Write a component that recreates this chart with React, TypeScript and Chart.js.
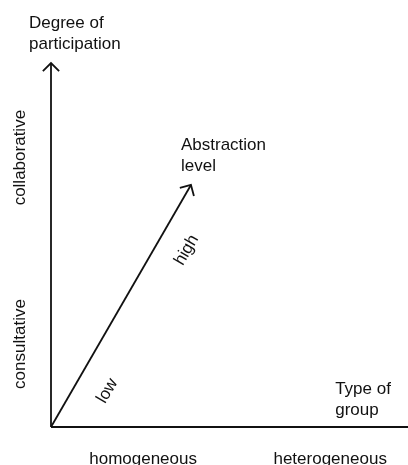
import React, { useEffect, useRef } from "react";
import { Chart, registerables } from "chart.js";

Chart.register(...registerables);

// ---- data (conceptual diagram, in axis units 0..10) ----
const groupTypes = ["homogeneous", "heterogeneous"];
const groupTypeX = [2.58, 7.82];

const participationLevels = ["consultative", "collaborative"];
const participationY = [2.28, 7.4];

const abstractionLevels = ["low", "high"];
const abstractionX = [1.58, 3.8];
const abstractionY = [0.99, 4.86];

const xAxisLine = [
  { x: 0, y: 0 },
  { x: 10, y: 0 },
];
const yAxisLine = [
  { x: 0, y: 0 },
  { x: 0, y: 10 },
];
const abstractionLine = [
  { x: 0, y: 0 },
  { x: 3.92, y: 6.65 },
];

const axisTitles = [
  { lines: ["Degree of", "participation"], x: -0.616, y: 10.96 },
  { lines: ["Abstraction", "level"], x: 3.64, y: 7.61 },
  { lines: ["Type of", "group"], x: 7.96, y: 0.907 },
];

const FONT = '17px "Liberation Sans", Arial, sans-serif';
const INK = "#111111";

const diagramPlugin = {
  id: "diagramPlugin",
  afterDatasetsDraw(chart: any) {
    const ctx = chart.ctx;
    const xs = chart.scales.x;
    const ys = chart.scales.y;
    const px = (v: number) => xs.getPixelForValue(v);
    const py = (v: number) => ys.getPixelForValue(v);

    ctx.save();
    // arrowheads on datasets flagged with arrow
    chart.data.datasets.forEach((ds: any, i: number) => {
      if (!ds.arrow) return;
      const meta = chart.getDatasetMeta(i);
      const pts = meta.data;
      const a = pts[pts.length - 2];
      const b = pts[pts.length - 1];
      const ang = Math.atan2(b.y - a.y, b.x - a.x);
      const len = 11.5;
      ctx.strokeStyle = INK;
      ctx.lineWidth = 1.8;
      ctx.beginPath();
      ctx.moveTo(b.x - len * Math.cos(ang - Math.PI / 4), b.y - len * Math.sin(ang - Math.PI / 4));
      ctx.lineTo(b.x, b.y);
      ctx.lineTo(b.x - len * Math.cos(ang + Math.PI / 4), b.y - len * Math.sin(ang + Math.PI / 4));
      ctx.stroke();
    });

    ctx.fillStyle = INK;
    ctx.font = FONT;

    // x category labels
    ctx.textAlign = "center";
    ctx.textBaseline = "alphabetic";
    groupTypes.forEach((t, i) => {
      ctx.fillText(t, px(groupTypeX[i]), py(-1.02));
    });

    // y category labels (rotated)
    participationLevels.forEach((t, i) => {
      ctx.save();
      ctx.translate(px(-0.868), py(participationY[i]));
      ctx.rotate(-Math.PI / 2);
      ctx.textAlign = "center";
      ctx.textBaseline = "middle";
      ctx.fillText(t, 0, 0);
      ctx.restore();
    });

    // abstraction labels along diagonal
    const p0x = px(abstractionLine[0].x);
    const p0y = py(abstractionLine[0].y);
    const p1x = px(abstractionLine[1].x);
    const p1y = py(abstractionLine[1].y);
    const lineAng = Math.atan2(p1y - p0y, p1x - p0x);
    abstractionLevels.forEach((t, i) => {
      ctx.save();
      ctx.translate(px(abstractionX[i]), py(abstractionY[i]));
      ctx.rotate(lineAng);
      ctx.textAlign = "center";
      ctx.textBaseline = "middle";
      ctx.fillText(t, 0, 0);
      ctx.restore();
    });

    // axis titles
    ctx.textAlign = "left";
    ctx.textBaseline = "alphabetic";
    axisTitles.forEach((tt) => {
      tt.lines.forEach((ln, j) => {
        ctx.fillText(ln, px(tt.x), py(tt.y) + j * 21);
      });
    });
    ctx.restore();
  },
};

export default function App() {
  const ref = useRef<HTMLCanvasElement | null>(null);
  useEffect(() => {
    if (!ref.current) return;
    const lineDs = (data: any[], arrow: boolean) => ({
      data,
      borderColor: INK,
      borderWidth: 1.8,
      pointRadius: 0,
      showLine: true,
      fill: false,
      clip: false as any,
      arrow,
    });
    const chart = new Chart(ref.current, {
      type: "scatter",
      data: {
        datasets: [
          lineDs(xAxisLine, false) as any,
          lineDs(yAxisLine, true) as any,
          lineDs(abstractionLine, true) as any,
        ],
      },
      options: {
        animation: false,
        responsive: false,
        layout: { padding: { left: 51, right: 0, top: 63, bottom: 38 } },
        plugins: { legend: { display: false }, tooltip: { enabled: false } },
        scales: {
          x: { type: "linear", min: 0, max: 10, display: false },
          y: { type: "linear", min: 0, max: 10, display: false },
        },
      },
      plugins: [diagramPlugin],
    });
    return () => chart.destroy();
  }, []);
  return (
    <div style={{ position: "absolute", left: 0, top: 0, width: 408, height: 465, background: "#fff" }}>
      <canvas ref={ref} width={408} height={465} />
    </div>
  );
}
